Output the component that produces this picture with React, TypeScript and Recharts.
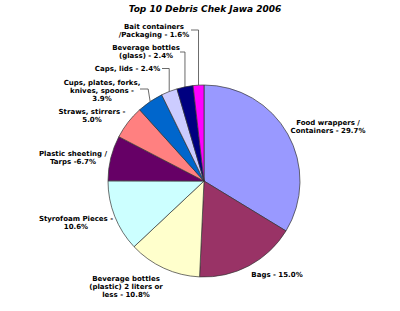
import { PieChart, Pie, Cell } from 'recharts'

// Top 10 debris items, Chek Jawa 2006 (percent of total)
const categories = [
  'Food wrappers / Containers',
  'Bags',
  'Beverage bottles (plastic) 2 liters or less',
  'Styrofoam Pieces',
  'Plastic sheeting / Tarps',
  'Straws, stirrers',
  'Cups, plates, forks, knives, spoons',
  'Caps, lids',
  'Beverage bottles (glass)',
  'Bait containers /Packaging',
]
const percents = [29.7, 15.0, 10.8, 10.6, 6.7, 5.0, 3.9, 2.4, 2.4, 1.6]

// label text as it is printed, line by line
const labelLines = [
  ['Food wrappers /', 'Containers - 29.7%'],
  ['Bags - 15.0%'],
  ['Beverage bottles', '(plastic) 2 liters or', 'less - 10.8%'],
  ['Styrofoam Pieces -', '10.6%'],
  ['Plastic sheeting /', 'Tarps -6.7%'],
  ['Straws, stirrers -', '5.0%'],
  ['Cups, plates, forks,', 'knives, spoons -', '3.9%'],
  ['Caps, lids - 2.4%'],
  ['Beverage bottles', '(glass) - 2.4%'],
  ['Bait containers', '/Packaging - 1.6%'],
]

const colors = ['#9999FF', '#993366', '#FFFFCC', '#CCFFFF', '#660066', '#FF8080', '#0066CC', '#CCCCFF', '#000080', '#FF00FF']

// where each label block sits (center x, first line y) and its leader line, if any
const labelLayout: { x: number; y: number; leader?: { y: number; endX: number; bend?: number } }[] = [
  { x: 328, y: 122 },
  { x: 277, y: 274 },
  { x: 126, y: 278 },
  { x: 76, y: 218 },
  { x: 73, y: 153 },
  { x: 92, y: 111 },
  { x: 102, y: 82, leader: { y: 89, endX: 140, bend: -2 } },
  { x: 127.5, y: 68, leader: { y: 68.5, endX: 162 } },
  { x: 146, y: 47, leader: { y: 52, endX: 180 } },
  { x: 154, y: 26, leader: { y: 30, endX: 191 } },
]

const data = categories.map((name, i) => ({ name, value: percents[i] }))

const RADIAN = Math.PI / 180
const LINE_H = 8.4

const renderLabel = (props: any) => {
  const { cx, cy, midAngle, outerRadius, index } = props
  const pos = labelLayout[index]
  const lines = labelLines[index]
  let leader = null
  if (pos.leader) {
    const sx = cx + outerRadius * Math.cos(-midAngle * RADIAN)
    const sy = cy + outerRadius * Math.sin(-midAngle * RADIAN)
    const bx = sx + (pos.leader.bend || 0)
    leader = (
      <polyline
        points={`${sx},${sy} ${bx},${pos.leader.y} ${pos.leader.endX},${pos.leader.y}`}
        fill="none"
        stroke="#444"
        strokeWidth={0.8}
      />
    )
  }
  return (
    <g key={`lbl-${index}`}>
      {leader}
      <text
        x={pos.x}
        y={pos.y}
        textAnchor="middle"
        fill="#000"
        style={{ fontFamily: 'DejaVu Sans, Verdana, sans-serif', fontSize: 7, fontWeight: 'bold' }}
      >
        {lines.map((line, j) => (
          <tspan key={j} x={pos.x} y={pos.y + 2.5 + j * LINE_H}>
            {line}
          </tspan>
        ))}
      </text>
    </g>
  )
}

export default function App() {
  return (
    <div style={{ position: 'absolute', left: 0, top: 0, width: 400, height: 311, background: '#fff' }}>
      <PieChart width={400} height={311} margin={{ top: 0, right: 0, bottom: 0, left: 0 }}>
        <text
          x={205}
          y={11.5}
          textAnchor="middle"
          fill="#000"
          style={{ fontFamily: 'DejaVu Sans, Verdana, sans-serif', fontSize: 9, fontWeight: 'bold', fontStyle: 'italic' }}
        >
          Top 10 Debris Chek Jawa 2006
        </text>
        <Pie
          data={data}
          dataKey="value"
          nameKey="name"
          cx={204}
          cy={181}
          outerRadius={96}
          startAngle={90}
          endAngle={-270}
          stroke="#333"
          strokeWidth={0.7}
          labelLine={false}
          label={renderLabel}
          isAnimationActive={false}
        >
          {data.map((d, i) => (
            <Cell key={d.name} fill={colors[i]} />
          ))}
        </Pie>
      </PieChart>
    </div>
  )
}
